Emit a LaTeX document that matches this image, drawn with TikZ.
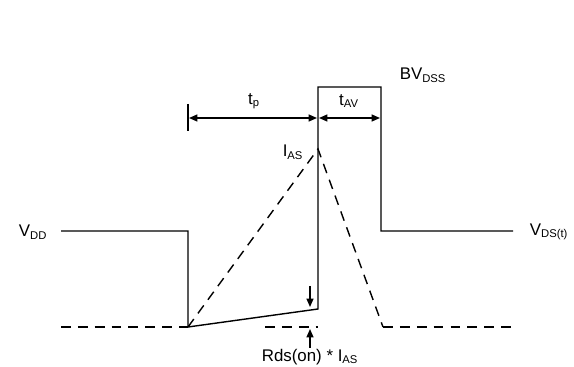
\documentclass[tikz,border=0pt]{standalone}
\usepackage{fontspec}
\setmainfont{Liberation Sans}
\usetikzlibrary{arrows.meta,positioning,calc}

\begin{document}
\begin{tikzpicture}[
    x=0.025cm, y=-0.025cm,
    wave/.style={line width=1pt},
    guide/.style={line width=1pt, dash pattern=on 7pt off 5pt},
    lbl/.style={font=\fontsize{12}{14}\selectfont, inner sep=0pt},
    >={Triangle[length=6pt,width=5pt]}
]
    \useasboundingbox (0,0) rectangle (574,367);

    % Waveform corners
    \coordinate (a0) at (61,231);
    \coordinate (a1) at (188,231);
    \coordinate (a2) at (188,327);
    \coordinate (a3) at (318,309);
    \coordinate (a4) at (318,87);
    \coordinate (a5) at (381,87);
    \coordinate (a6) at (381,231);
    \coordinate (a7) at (513,231);
    \coordinate (peak) at (318,149);
    \coordinate (foot) at (383,327);

    % Drain voltage
    \draw[wave] (a0) -- (a1) -- (a2) -- (a3) -- (a4) -- (a5) -- (a6) -- (a7);

    % Current ramp
    \draw[guide] (a2) -- (peak) -- (foot);

    % Zero level
    \coordinate (z0) at (61,327);
    \coordinate (z1) at (265,327);
    \coordinate (z2) at (318,327);
    \coordinate (z3) at (513,327);
    \draw[guide] (z0) -- (a2);
    \draw[guide] (z1) -- (z2);
    \draw[guide] (foot) -- (z3);

    % Timing marks
    \coordinate (tk0) at (188,104);
    \coordinate (tk1) at (188,131);
    \draw[wave] (tk0) -- (tk1);
    \coordinate (tp0) at (189,118);
    \coordinate (tp1) at (317,118);
    \coordinate (tv0) at (319,118);
    \coordinate (tv1) at (380,118);
    \draw[wave,<->] (tp0) -- (tp1);
    \draw[wave,<->] (tv0) -- (tv1);

    % On-state drop
    \coordinate (d0) at (310,286);
    \coordinate (d1) at (310,307);
    \coordinate (u0) at (310,348);
    \coordinate (u1) at (310,329);
    \draw[wave,->] (d0) -- (d1);
    \draw[wave,->] (u0) -- (u1);

    % Labels
    \node[lbl] (vdd) at (33,232) {V\textsubscript{\fontsize{8}{9}\selectfont DD}};
    \node[lbl] (vds) at (549,232) {V\textsubscript{\fontsize{8}{9}\selectfont DS(t)}};
    \node[lbl] (tp) at (254,101) {t\textsubscript{\fontsize{8}{9}\selectfont p}};
    \node[lbl] (tav) at (349,101) {t\textsubscript{\fontsize{8}{9}\selectfont AV}};
    \node[lbl] (bv) at (423,75) {BV\textsubscript{\fontsize{8}{9}\selectfont DSS}};
    \node[lbl] (ias) at (293,152) {I\textsubscript{\fontsize{8}{9}\selectfont AS}};
    \node[lbl] (rds) at (310,357) {Rds(on) * I\textsubscript{\fontsize{8}{9}\selectfont AS}};
\end{tikzpicture}
\end{document}
